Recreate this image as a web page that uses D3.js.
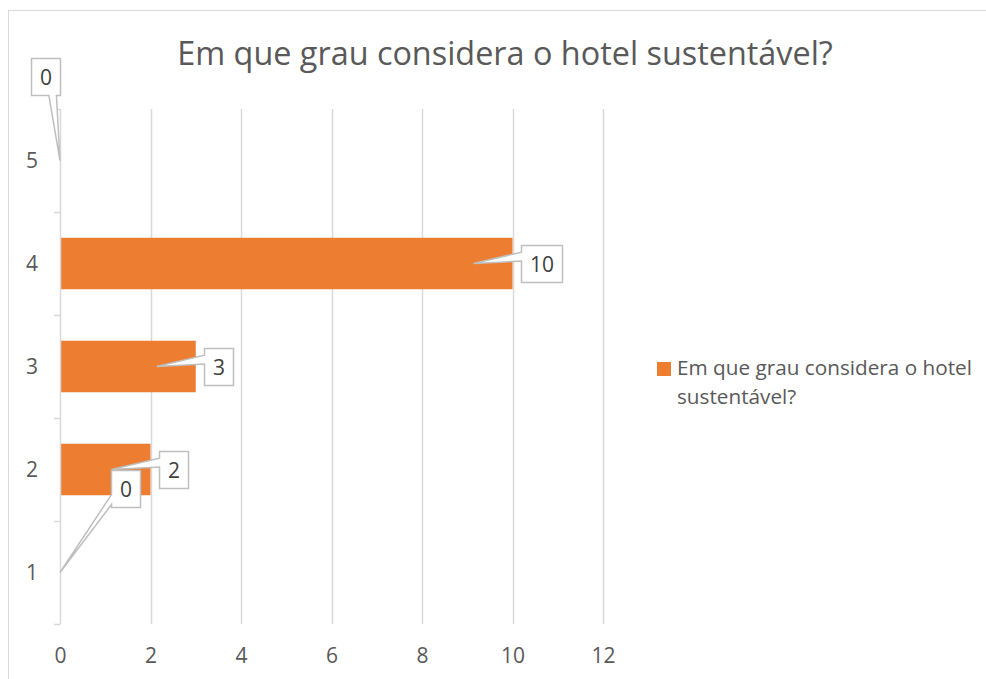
<!DOCTYPE html>
<html>
<head>
<meta charset="utf-8">
<script src="https://cdn.jsdelivr.net/npm/d3@7"></script>
<style>
  html, body { margin: 0; padding: 0; background: #fff; }
  svg { display: block; }
  text { font-family: "Open Sans", Lato, sans-serif; }
</style>
</head>
<body>
<svg id="chart" width="986" height="679"></svg>
<script>
// ---- data ----
const chartTitle = "Em que grau considera o hotel sustentável?";
const seriesName = ["Em que grau considera o hotel", "sustentável?"];
const categories = ["1", "2", "3", "4", "5"];
const values = [0, 2, 3, 10, 0];
const xTicks = [0, 2, 4, 6, 8, 10, 12];

// ---- layout ----
const W = 986, H = 679;
const plot = { left: 60, right: 603, top: 109, bottom: 624 };
const colors = { bar: "#ED7D31", grid: "#d9d9d9", text: "#595959", label: "#404040", callout: "#bfbfbf", border: "#d9d9d9" };
const fontDigits = 21;
// manual nudges of the data-label callouts (pixels, relative to default spot)
const labelNudge = { "1": [43, -84.5], "5": [-37, -84.5] };

const svg = d3.select("#chart");

// fit a text element's font size to a target width
function fitWidth(sel, target) {
  sel.attr("font-size", 20);
  const w = sel.node().getComputedTextLength();
  sel.attr("font-size", 20 * target / w);
}

// chart border (cropped by the picture)
svg.append("rect").attr("x", 8.5).attr("y", 10.5).attr("width", 1200).attr("height", 900)
  .attr("fill", "#fff").attr("stroke", colors.border).attr("stroke-width", 1);

const x = d3.scaleLinear().domain([0, 12]).range([plot.left, plot.right]);
const y = d3.scaleBand().domain(categories.slice().reverse()).range([plot.top, plot.bottom])
  .paddingInner(0.5).paddingOuter(0.25);

// title
const title = svg.append("text").attr("x", 505).attr("y", 65).attr("text-anchor", "middle")
  .attr("fill", colors.text).text(chartTitle);
fitWidth(title, 656);

// gridlines
svg.append("g").selectAll("line").data(xTicks.filter(d => d !== 0)).join("line")
  .attr("x1", d => Math.round(x(d)) + 0.5).attr("x2", d => Math.round(x(d)) + 0.5)
  .attr("y1", plot.top).attr("y2", plot.bottom)
  .attr("stroke", colors.grid).attr("stroke-width", 1.5);

// bars
const data = categories.map((c, i) => ({ c, v: values[i] }));
svg.append("g").selectAll("rect").data(data).join("rect")
  .attr("x", x(0)).attr("y", d => y(d.c))
  .attr("width", d => x(d.v) - x(0)).attr("height", y.bandwidth())
  .attr("fill", colors.bar);

// y axis
const yAxis = d3.axisLeft(y).tickSize(0).tickPadding(0);
const yg = svg.append("g").attr("transform", `translate(${x(0)},0)`).call(yAxis);
yg.select(".domain").remove();
yg.selectAll("text").attr("x", -28).attr("text-anchor", "middle")
  .attr("font-size", fontDigits).attr("fill", colors.text).attr("dy", "0.36em");
// axis line + band boundary ticks
svg.append("line").attr("x1", x(0) + 0.5).attr("x2", x(0) + 0.5)
  .attr("y1", plot.top).attr("y2", plot.bottom).attr("stroke", colors.grid).attr("stroke-width", 1.5);
const bounds = d3.range(categories.length + 1).map(i => plot.top + i * y.step());
svg.append("g").selectAll("line").data(bounds).join("line")
  .attr("x1", x(0) - 6).attr("x2", x(0) + 0.5)
  .attr("y1", d => Math.round(d) + 0.5).attr("y2", d => Math.round(d) + 0.5)
  .attr("stroke", colors.grid).attr("stroke-width", 1.5);

// x axis labels
const xAxis = d3.axisBottom(x).tickValues(xTicks).tickSize(0).tickPadding(0);
const xg = svg.append("g").attr("transform", `translate(0,${plot.bottom})`).call(xAxis);
xg.select(".domain").remove();
xg.selectAll("text").attr("y", 39).attr("dy", 0).attr("font-size", fontDigits).attr("fill", colors.text);

// data label callouts
const lg = svg.append("g");
data.forEach(d => {
  const cy = y(d.c) + y.bandwidth() / 2;
  const tip = [Math.max(x(0), x(d.v) - 39), cy];
  const t = lg.append("text").attr("font-size", fontDigits).attr("fill", colors.label)
    .attr("text-anchor", "middle").text(d.v);
  const tw = t.node().getComputedTextLength();
  const w = Math.round(tw + 17), h = 37;
  const nudge = labelNudge[d.c] || [0, 0];
  const l = Math.round(x(d.v) + 8 + nudge[0]) + 0.5;
  const top = Math.round(cy - h / 2 + nudge[1]) + 0.5;
  const r = l + w, b = top + h;
  const bcx = (l + r) / 2, bcy = (top + b) / 2;
  const dxn = (tip[0] - bcx) / (w / 2), dyn = (tip[1] - bcy) / (h / 2);
  let p;
  if (Math.abs(dyn) > Math.abs(dxn) && tip[1] > b) {
    const b1 = tip[0] > bcx ? l + 0.6 * w : l + 0.05 * w;
    const b2 = tip[0] > bcx ? l + 0.86 * w : l + 0.3 * w;
    p = `M${l},${top}H${r}V${b}H${b2}L${tip[0]},${tip[1]}L${b1},${b}H${l}Z`;
  } else {
    const b1 = tip[1] > b ? b - 0.35 * h : top + 0.18 * h;
    const b2 = tip[1] > b ? b - 0.08 * h : top + 0.42 * h;
    p = `M${l},${top}H${r}V${b}H${l}V${b2}L${tip[0]},${tip[1]}L${l},${b1}Z`;
  }
  lg.insert("path", "text").attr("d", p).attr("fill", "#fff")
    .attr("stroke", colors.callout).attr("stroke-width", 1.5).attr("stroke-linejoin", "miter");
  t.attr("x", bcx).attr("y", bcy).attr("dy", "0.36em");
});

// legend
const leg = svg.append("g");
leg.append("rect").attr("x", 657).attr("y", 362).attr("width", 14).attr("height", 14).attr("fill", colors.bar);
const legText = leg.append("text").attr("fill", colors.text);
legText.selectAll("tspan").data(seriesName).join("tspan")
  .attr("x", 677).attr("y", (d, i) => 375 + i * 29).text(d => d);
const probe = leg.append("text").text(seriesName[0]);
fitWidth(probe, 295);
legText.attr("font-size", probe.attr("font-size"));
probe.remove();
</script>
</body>
</html>
